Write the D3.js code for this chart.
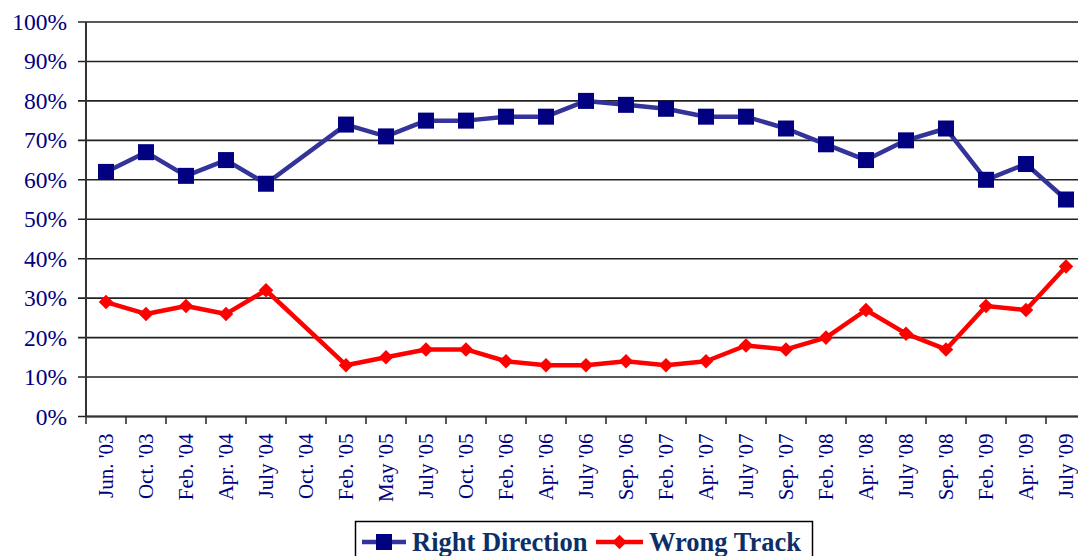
<!DOCTYPE html>
<html><head><meta charset="utf-8">
<script src="https://cdn.jsdelivr.net/npm/d3@7"></script>
<style>body{margin:0;background:#fff}svg{display:block}</style>
</head><body>
<svg id="c" width="1078" height="556"></svg>
<script>
const categories = ["Jun. '03","Oct. '03","Feb. '04","Apr. '04","July '04","Oct. '04","Feb. '05","May '05","July '05","Oct. '05","Feb. '06","Apr. '06","July '06","Sep. '06","Feb. '07","Apr. '07","July '07","Sep. '07","Feb. '08","Apr. '08","July '08","Sep. '08","Feb. '09","Apr. '09","July '09"];
const rightDirection = [62,67,61,65,59,null,74,71,75,75,76,76,80,79,78,76,76,73,69,65,70,73,60,64,55];
const wrongTrack = [29,26,28,26,32,null,13,15,17,17,14,13,13,14,13,14,18,17,20,27,21,17,28,27,38];
const yTicks = [0,10,20,30,40,50,60,70,80,90,100];
const seriesNames = ["Right Direction","Wrong Track"];

const svg = d3.select("#c");
const x = d3.scaleBand().domain(categories).range([86,1086]);
const y = d3.scaleLinear().domain([0,100]).range([416.5,22]);

// gridlines
svg.append("g").selectAll("line").data(yTicks).join("line")
  .attr("x1",78).attr("x2",1078).attr("y1",d=>y(d)).attr("y2",d=>y(d))
  .attr("stroke","#222").attr("stroke-width",1.6);

// y axis
const ya = svg.append("g").attr("transform","translate(86,0)")
  .call(d3.axisLeft(y).tickValues(yTicks).tickFormat(d=>d+"%").tickSize(0).tickPadding(19));
ya.select(".domain").remove();
ya.selectAll("text").attr("font-family","'Liberation Serif',serif").attr("font-size",23.5).attr("fill","#000080");
svg.append("line").attr("x1",86).attr("x2",86).attr("y1",22).attr("y2",417).attr("stroke","#333").attr("stroke-width",2);

// x axis
const xa = svg.append("g").attr("transform","translate(0,416.5)")
  .call(d3.axisBottom(x).tickSize(0).tickPadding(0));
xa.select(".domain").attr("stroke","#333").attr("stroke-width",2).attr("d","M86,0H1078");
xa.selectAll(".tick text").attr("transform","rotate(-90)").attr("text-anchor","end")
  .attr("x",-17).attr("y",0).attr("dy","0.35em").attr("dx",0)
  .attr("font-family","'Liberation Serif',serif").attr("font-size",21).attr("fill","#000080");
// tick marks at band boundaries
svg.append("g").selectAll("line").data(categories).join("line")
  .attr("x1",d=>x(d)).attr("x2",d=>x(d)).attr("y1",416.5).attr("y2",424)
  .attr("stroke","#333").attr("stroke-width",1.6);

const cx = d=>x(d)+x.bandwidth()/2;
function drawSeries(vals,color,width){
  const pts = categories.map((c,i)=>({c,v:vals[i]})).filter(p=>p.v!==null);
  svg.append("path").datum(pts)
    .attr("d",d3.line().x(p=>cx(p.c)).y(p=>y(p.v)))
    .attr("fill","none").attr("stroke",color).attr("stroke-width",width).attr("stroke-linejoin","round");
  return pts;
}
const rp = drawSeries(rightDirection,"#333399",4.5);
const wp = drawSeries(wrongTrack,"#ff0000",4.5);
svg.append("g").selectAll("rect").data(rp).join("rect")
  .attr("x",p=>cx(p.c)-8).attr("y",p=>y(p.v)-8).attr("width",16).attr("height",16).attr("fill","#000080");
svg.append("g").selectAll("path").data(wp).join("path")
  .attr("d",d3.symbol(d3.symbolDiamond2,135)).attr("transform",p=>`translate(${cx(p.c)},${y(p.v)})`).attr("fill","#ff0000");

// legend
const lg = svg.append("g");
lg.append("rect").attr("x",355.5).attr("y",521.5).attr("width",457).attr("height",40).attr("fill","#fff").attr("stroke","#000").attr("stroke-width",1.5);
lg.append("line").attr("x1",362).attr("x2",406).attr("y1",542).attr("y2",542).attr("stroke","#333399").attr("stroke-width",4.5);
lg.append("rect").attr("x",376).attr("y",534).attr("width",16).attr("height",16).attr("fill","#000080");
lg.append("text").attr("x",412).attr("y",551).text(seriesNames[0])
  .attr("font-family","'Liberation Serif',serif").attr("font-weight","bold").attr("font-size",26.5).attr("fill","#0b2f66");
lg.append("line").attr("x1",596).attr("x2",643).attr("y1",542).attr("y2",542).attr("stroke","#ff0000").attr("stroke-width",4.5);
lg.append("path").attr("d",d3.symbol(d3.symbolDiamond2,135)).attr("transform","translate(619.5,542)").attr("fill","#ff0000");
lg.append("text").attr("x",649).attr("y",551).text(seriesNames[1])
  .attr("font-family","'Liberation Serif',serif").attr("font-weight","bold").attr("font-size",26.5).attr("fill","#0b2f66");
</script>
</body></html>
